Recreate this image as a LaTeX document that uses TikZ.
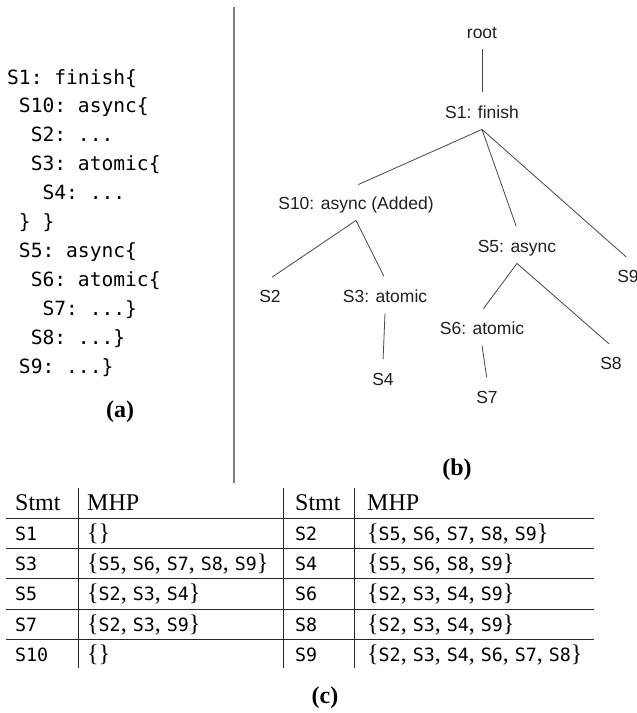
\documentclass[tikz,border=0pt]{standalone}
\usepackage{fontspec}
\setmainfont{Liberation Serif}
\setmonofont{DejaVu Sans Mono}
\newfontfamily\treefont{Liberation Sans}
% statement identifiers inside the table
\newcommand\sid[1]{{\fontsize{18.3}{20}\ttfamily #1}}

\begin{document}
\begin{tikzpicture}[x=1pt,y=-1pt,
  codeline/.style={anchor=base west, inner sep=0pt, font=\fontsize{19.6}{22}\ttfamily},
  treenode/.style={inner xsep=0pt, inner ysep=11pt, text height=12.5pt, text depth=0pt,
                   font=\fontsize{17.5}{19}\treefont, text=black!88},
  treeedge/.style={draw=black!72, line width=0.8pt, shorten >=2.5pt},
  cell/.style={anchor=base west, inner sep=0pt, font=\fontsize{24}{26}\selectfont},
  caption/.style={inner sep=0pt, font=\fontsize{24}{26}\selectfont\bfseries},
  rule/.style={line width=0.9pt, draw=black!85},
  divider/.style={line width=1.4pt, draw=black!50},
]
\useasboundingbox (0,0) rectangle (637,713);

% ---------------- (a) program text ----------------
\def\cw{11.8}
\node[codeline] (c1)  at (7+0*\cw, 84.0)  {S1: finish\{};
\node[codeline] (c2)  at (7+1*\cw, 112.9) {S10: async\{};
\node[codeline] (c3)  at (7+2*\cw, 141.8) {S2: ...};
\node[codeline] (c4)  at (7+2*\cw, 170.7) {S3: atomic\{};
\node[codeline] (c5)  at (7+3*\cw, 199.6) {S4: ...};
\node[codeline] (c6)  at (7+1*\cw, 228.5) {\} \}};
\node[codeline] (c7)  at (7+1*\cw, 257.4) {S5: async\{};
\node[codeline] (c8)  at (7+2*\cw, 286.3) {S6: atomic\{};
\node[codeline] (c9)  at (7+3*\cw, 315.2) {S7: ...\}};
\node[codeline] (c10) at (7+2*\cw, 344.1) {S8: ...\}};
\node[codeline] (c11) at (7+1*\cw, 373.0) {S9: ...\}};
\node[caption] (capa) at (120,412) {(a)};

% separator between (a) and (b)
\draw[divider] (234,7) -- (234,483);

% ---------------- (b) tree ----------------
\node[treenode] (root) at (482,32)  {root};
\node[treenode] (s1)   at (482,112) {S1: finish};
\node[treenode] (s10)  at (356,203) {S10: async (Added)};
\node[treenode] (s5)   at (517,246) {S5: async};
\node[treenode] (s9)   at (628,276) {S9};
\node[treenode] (s2)   at (270,296) {S2};
\node[treenode] (s3)   at (385,296) {S3: atomic};
\node[treenode] (s6)   at (482,328) {S6: atomic};
\node[treenode] (s8)   at (611,363) {S8};
\node[treenode] (s4)   at (383,379) {S4};
\node[treenode] (s7)   at (487,397) {S7};

\draw[treeedge] (root.south) -- (s1.north);
\draw[treeedge] (s1.south) -- (s10.north);
\draw[treeedge] (s1.south) -- (s5.north);
\draw[treeedge] (s1.south) -- (s9.north);
\draw[treeedge] (s10.south) -- (s2.north);
\draw[treeedge] (s10.south) -- (s3.north);
\draw[treeedge] (s3.south) -- (s4.north);
\draw[treeedge] (s5.south) -- (s6.north);
\draw[treeedge] (s5.south) -- (s8.north);
\draw[treeedge] (s6.south) -- (s7.north);
\node[caption] (capb) at (457,470) {(b)};

% ---------------- (c) table ----------------
\foreach \y in {518,548,578,609,639} \draw[rule] (6,\y) -- (594,\y);
\foreach \x in {78,283,354} \draw[rule] (\x,488) -- (\x,668);

\def\ca{15}\def\cb{87}\def\cc{295}\def\cd{367}
% header
\node[cell] (h1) at (\ca,510) {Stmt};
\node[cell] (h2) at (\cb,510) {MHP};
\node[cell] (h3) at (\cc,510) {Stmt};
\node[cell] (h4) at (\cd,510) {MHP};
% rows
\node[cell] (r1a) at (\ca,540) {\sid{S1}};
\node[cell] (r1b) at (\cb,540) {\{\}};
\node[cell] (r1c) at (\cc,540) {\sid{S2}};
\node[cell] (r1d) at (\cd,540) {\{\sid{S5}, \sid{S6}, \sid{S7}, \sid{S8}, \sid{S9}\}};
\node[cell] (r2a) at (\ca,570.5) {\sid{S3}};
\node[cell] (r2b) at (\cb,570.5) {\{\sid{S5}, \sid{S6}, \sid{S7}, \sid{S8}, \sid{S9}\}};
\node[cell] (r2c) at (\cc,570.5) {\sid{S4}};
\node[cell] (r2d) at (\cd,570.5) {\{\sid{S5}, \sid{S6}, \sid{S8}, \sid{S9}\}};
\node[cell] (r3a) at (\ca,600.5) {\sid{S5}};
\node[cell] (r3b) at (\cb,600.5) {\{\sid{S2}, \sid{S3}, \sid{S4}\}};
\node[cell] (r3c) at (\cc,600.5) {\sid{S6}};
\node[cell] (r3d) at (\cd,600.5) {\{\sid{S2}, \sid{S3}, \sid{S4}, \sid{S9}\}};
\node[cell] (r4a) at (\ca,631) {\sid{S7}};
\node[cell] (r4b) at (\cb,631) {\{\sid{S2}, \sid{S3}, \sid{S9}\}};
\node[cell] (r4c) at (\cc,631) {\sid{S8}};
\node[cell] (r4d) at (\cd,631) {\{\sid{S2}, \sid{S3}, \sid{S4}, \sid{S9}\}};
\node[cell] (r5a) at (\ca,661) {\sid{S10}};
\node[cell] (r5b) at (\cb,661) {\{\}};
\node[cell] (r5c) at (\cc,661) {\sid{S9}};
\node[cell] (r5d) at (\cd,661) {\{\sid{S2}, \sid{S3}, \sid{S4}, \sid{S6}, \sid{S7}, \sid{S8}\}};
\node[caption] (capc) at (325,698) {(c)};
\end{tikzpicture}
\end{document}
